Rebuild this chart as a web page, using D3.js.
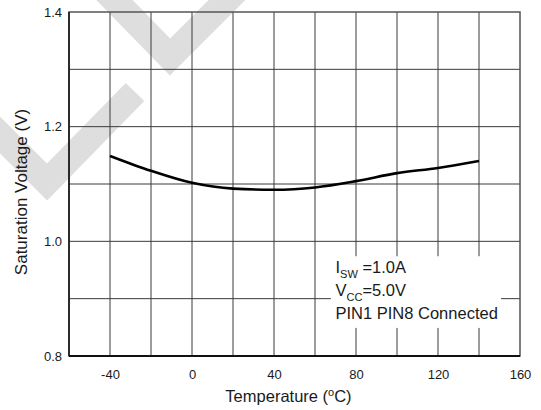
<!DOCTYPE html>
<html>
<head>
<meta charset="utf-8">
<script src="https://cdn.jsdelivr.net/npm/d3@7"></script>
<style>
  body { margin: 0; padding: 0; background: #fff; }
  text { font-family: "Liberation Sans", Arial, sans-serif; fill: #1a1a1a; }
</style>
</head>
<body>
<script>
// saturation voltage vs temperature
const temps = [-40, -20, 0, 20, 40, 60, 80, 100, 120, 140]
const vsat = [1.149, 1.123, 1.102, 1.092, 1.090, 1.094, 1.105, 1.119, 1.128, 1.140]

const xTickLabels = [-40, 0, 40, 80, 120, 160]
const yTickLabels = [0.8, 1.0, 1.2, 1.4]
const xGrid = [-40, -20, 0, 20, 40, 60, 80, 100, 120, 140]
const yGrid = [0.9, 1.0, 1.1, 1.2, 1.3]

const note = [
  { main: "I", sub: "SW", rest: " =1.0A" },
  { main: "V", sub: "CC", rest: "=5.0V" },
  { main: "PIN1 PIN8 Connected", sub: "", rest: "" }
]

const width = 541
const height = 410
const margin = { top: 12, right: 21, bottom: 54, left: 69 }
const w = width - margin.left - margin.right
const h = height - margin.top - margin.bottom

const x = d3.scaleLinear().domain([-60, 160]).range([0, w])
const y = d3.scaleLinear().domain([0.8, 1.4]).range([h, 0])

const svg = d3.select("body").append("svg")
  .attr("width", width)
  .attr("height", height)

// faint watermark chevrons behind everything
svg.append("g")
  .attr("fill", "none")
  .attr("stroke", "#dedede")
  .attr("stroke-width", 26)
  .attr("stroke-linejoin", "miter")
  .selectAll("polyline")
  .data([
    [[95, -20], [170, 57], [250, -23]],
    [[-20, 115], [47, 182], [135, 92]]
  ])
  .join("polyline")
  .attr("points", d => d.map(p => p.join(",")).join(" "))

const g = svg.append("g")
  .attr("transform", `translate(${margin.left},${margin.top})`)

// grid
g.append("g")
  .attr("stroke", "#3a3a3a")
  .attr("stroke-width", 1)
  .selectAll("line.v")
  .data(xGrid)
  .join("line")
  .attr("x1", d => x(d)).attr("x2", d => x(d))
  .attr("y1", 0).attr("y2", h)

g.append("g")
  .attr("stroke", "#3a3a3a")
  .attr("stroke-width", 1)
  .selectAll("line.h")
  .data(yGrid)
  .join("line")
  .attr("x1", 0).attr("x2", w)
  .attr("y1", d => y(d)).attr("y2", d => y(d))

// white patch under the annotation
g.append("rect")
  .attr("x", x(68) - 0.5)
  .attr("y", y(0.974))
  .attr("width", x(151) - x(68))
  .attr("height", y(0.849) - y(0.974))
  .attr("fill", "#fff")

// frame
g.append("rect")
  .attr("width", w)
  .attr("height", h)
  .attr("fill", "none")
  .attr("stroke", "#555")
  .attr("stroke-width", 1.5)

g.append("line")
  .attr("x1", 0).attr("x2", w)
  .attr("y1", h).attr("y2", h)
  .attr("stroke", "#111")
  .attr("stroke-width", 2)

g.append("line")
  .attr("x1", 0).attr("x2", 0)
  .attr("y1", 0).attr("y2", h)
  .attr("stroke", "#111")
  .attr("stroke-width", 1.5)

// curve
const line = d3.line()
  .x((d, i) => x(temps[i]))
  .y(d => y(d))
  .curve(d3.curveMonotoneX)

g.append("path")
  .datum(vsat)
  .attr("d", line)
  .attr("fill", "none")
  .attr("stroke", "#000")
  .attr("stroke-width", 2.6)

// axes (labels only, grid is drawn above)
const xAxis = g.append("g")
  .attr("transform", `translate(0,${h})`)
  .call(d3.axisBottom(x).tickValues(xTickLabels).tickFormat(d => String(d)).tickSize(0).tickPadding(14))
xAxis.select(".domain").remove()
xAxis.selectAll("text")
  .attr("font-size", 13)
  .attr("font-family", "Liberation Sans, Arial, sans-serif")
  .attr("fill", "#1a1a1a")

const yAxis = g.append("g")
  .call(d3.axisLeft(y).tickValues(yTickLabels).tickFormat(d3.format(".1f")).tickSize(0).tickPadding(7))
yAxis.select(".domain").remove()
yAxis.selectAll("text")
  .attr("font-size", 13)
  .attr("font-family", "Liberation Sans, Arial, sans-serif")
  .attr("fill", "#1a1a1a")

// axis titles
const xt = svg.append("text")
  .attr("x", margin.left + w / 2 - 6)
  .attr("y", 402)
  .attr("text-anchor", "middle")
  .attr("font-size", 16.5)
xt.append("tspan").text("Temperature (")
xt.append("tspan").attr("font-size", 11).attr("dy", -6).text("o")
xt.append("tspan").attr("dy", 6).text("C)")

svg.append("text")
  .attr("transform", `translate(27,${margin.top + h / 2 + 8}) rotate(-90)`)
  .attr("text-anchor", "middle")
  .attr("font-size", 17)
  .text("Saturation Voltage (V)")

// annotation
const ann = g.append("g")
  .attr("transform", `translate(${x(70)},${y(0.9) - 26})`)
  .attr("font-size", 16.5)

note.forEach((n, i) => {
  const t = ann.append("text").attr("y", i * 23)
  t.append("tspan").text(n.main)
  if (n.sub) {
    t.append("tspan").attr("font-size", 11).attr("dy", 5).text(n.sub)
    t.append("tspan").attr("dy", -5).text(n.rest)
  }
})
</script>
</body>
</html>
